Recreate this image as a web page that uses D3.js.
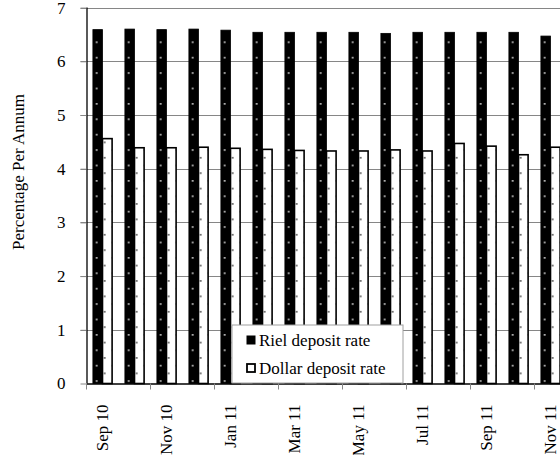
<!DOCTYPE html>
<html>
<head>
<meta charset="utf-8">
<script src="https://cdn.jsdelivr.net/npm/d3@7"></script>
<style>
  body { margin: 0; background: #fff; }
  svg { display: block; font-family: "Liberation Serif", "Times New Roman", serif; }
</style>
</head>
<body>
<div class="chart"></div>
<script>
// Parameters
const width = 560;
const height = 455;
const margin = { top: 7.6, left: 86.5, bottom: 71.5 };
const catWidth = 32;
const fontFamily = '"Liberation Serif", "Times New Roman", serif';

// data
const months = ['Sep 10', 'Oct 10', 'Nov 10', 'Dec 10', 'Jan 11', 'Feb 11', 'Mar 11', 'Apr 11',
                'May 11', 'Jun 11', 'Jul 11', 'Aug 11', 'Sep 11', 'Oct 11', 'Nov 11'];
const rielRate = [6.59, 6.60, 6.59, 6.60, 6.58, 6.54, 6.54, 6.54, 6.54, 6.52, 6.54, 6.54, 6.54, 6.54, 6.47];
const dollarRate = [4.56, 4.39, 4.39, 4.40, 4.38, 4.36, 4.34, 4.33, 4.33, 4.35, 4.33, 4.47, 4.42, 4.26, 4.40];
const labelMonths = ['Sep 10', 'Nov 10', 'Jan 11', 'Mar 11', 'May 11', 'Jul 11', 'Sep 11', 'Nov 11'];
const yTicks = [0, 1, 2, 3, 4, 5, 6, 7];
const seriesNames = ['Riel deposit rate', 'Dollar deposit rate'];

const svg = d3.select('.chart')
    .append('svg')
    .attr('width', width)
    .attr('height', height)
    .style('font-size', '17px');

// dotted fill patterns
const defs = svg.append('defs');
function dotPattern(id, bg, dot) {
    const p = defs.append('pattern')
        .attr('id', id)
        .attr('patternUnits', 'userSpaceOnUse')
        .attr('width', 16)
        .attr('height', 15.4);
    p.append('rect').attr('width', 16).attr('height', 15.4).attr('fill', bg);
    p.append('rect').attr('x', 1.5).attr('y', 3).attr('width', 1.5).attr('height', 1.5).attr('fill', dot);
    p.append('rect').attr('x', 9.5).attr('y', 10.7).attr('width', 1.5).attr('height', 1.5).attr('fill', dot);
}
dotPattern('rielFill', '#000', '#fff');
dotPattern('dollarFill', '#fff', '#222');

// scales
const x = d3.scaleBand()
    .domain(months)
    .range([margin.left, margin.left + months.length * catWidth]);

const xs = d3.scaleBand()
    .domain(seriesNames)
    .range([6.4, catWidth - 6.4]);

const y = d3.scaleLinear()
    .domain([0, 7])
    .range([height - margin.bottom, margin.top]);

// gridlines
svg.append('g')
    .selectAll('line')
    .data(yTicks.slice(1))
    .join('line')
    .attr('x1', margin.left - 6)
    .attr('x2', width)
    .attr('y1', d => Math.round(y(d)) + 0.5)
    .attr('y2', d => Math.round(y(d)) + 0.5)
    .attr('stroke', '#868686')
    .attr('stroke-width', 1.2);

// y axis
const yAxis = svg.append('g')
    .attr('transform', `translate(${margin.left}, 0)`)
    .call(d3.axisLeft(y).tickValues(yTicks).tickFormat(d3.format('d')).tickSize(6).tickPadding(15))
    .attr('font-family', fontFamily)
    .attr('font-size', 17);
yAxis.selectAll('line').attr('stroke', '#868686');
yAxis.select('.domain').attr('stroke', '#000').attr('stroke-width', 1.3).attr('d', `M0.5,${y(7)}V${y(0)}`);
yAxis.selectAll('text').attr('fill', '#000');

// bars
const groups = svg.append('g')
    .selectAll('g')
    .data(months)
    .join('g')
    .attr('transform', d => `translate(${x(d)}, 0)`);

groups.append('rect')
    .attr('x', xs(seriesNames[0]))
    .attr('width', xs.bandwidth())
    .attr('y', (d, i) => y(rielRate[i]))
    .attr('height', (d, i) => y(0) - y(rielRate[i]))
    .attr('fill', 'url(#rielFill)')
    .attr('stroke', '#000')
    .attr('stroke-width', 0.8);

groups.append('rect')
    .attr('x', xs(seriesNames[1]))
    .attr('width', xs.bandwidth())
    .attr('y', (d, i) => y(dollarRate[i]))
    .attr('height', (d, i) => y(0) - y(dollarRate[i]))
    .attr('fill', 'url(#dollarFill)')
    .attr('stroke', '#000')
    .attr('stroke-width', 1.6);

// x axis
const xAxis = svg.append('g')
    .attr('transform', `translate(0, ${y(0)})`)
    .call(d3.axisBottom(x).tickValues(labelMonths).tickSize(6).tickSizeOuter(0))
    .attr('font-family', fontFamily)
    .attr('font-size', 17);
xAxis.select('.domain').attr('stroke', '#000').attr('stroke-width', 1.3);
xAxis.selectAll('.tick line')
    .attr('stroke', '#868686')
    .attr('transform', `translate(${-x.bandwidth() / 2}, 0)`);
xAxis.selectAll('.tick text')
    .attr('transform', 'rotate(-90)')
    .attr('text-anchor', 'end')
    .attr('x', -21)
    .attr('y', 0)
    .attr('dy', '0.33em')
    .attr('fill', '#000');

// y title
svg.append('text')
    .attr('transform', 'translate(24, 172) rotate(-90)')
    .attr('text-anchor', 'middle')
    .text('Percentage Per Annum');

// legend
const legend = svg.append('g').attr('transform', 'translate(232, 325)');
legend.append('rect')
    .attr('width', 171)
    .attr('height', 58)
    .attr('fill', '#fff')
    .attr('stroke', '#a0a0a0');

const legendItems = legend.selectAll('g')
    .data(seriesNames)
    .join('g')
    .attr('transform', (d, i) => `translate(15, ${11 + i * 28})`);

legendItems.append('rect')
    .attr('width', 8)
    .attr('height', 8)
    .attr('fill', (d, i) => i === 0 ? '#000' : '#fff')
    .attr('stroke', '#000')
    .attr('stroke-width', (d, i) => i === 0 ? 1 : 1.8);

legendItems.append('text')
    .attr('x', 12)
    .attr('y', 10)
    .text(d => d);
</script>
</body>
</html>
